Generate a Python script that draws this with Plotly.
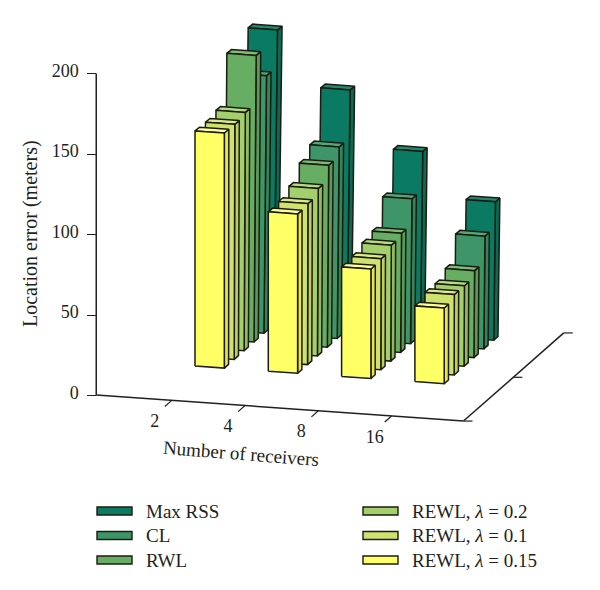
import plotly.graph_objects as go

receivers = ["2", "4", "8", "16"]
y_ticks = [0, 50, 100, 150, 200]

# back row first, so the front bars paint over the rear ones
series_names = ["Max RSS", "CL", "RWL", "REWL, <i>λ</i> = 0.2", "REWL, <i>λ</i> = 0.1", "REWL, <i>λ</i> = 0.15"]
max_rss = [183, 149, 114, 86]
cl = [160, 119, 90, 70]
rwl = [178, 113, 74, 54]
rewl_02 = [148, 104, 72, 50]
rewl_01 = [146, 100, 69, 50]
rewl_015 = [146, 99, 68, 47]
series_values = [max_rss, cl, rwl, rewl_02, rewl_01, rewl_015]

front_colors = ["#0b7a62", "#3e9668", "#68ad64", "#a3cf6d", "#cfe26f", "#ffff66"]
side_colors = ["#0a6a55", "#35845b", "#5b9a58", "#90bb5f", "#bccf60", "#e8e552"]
top_colors = ["#1f8a70", "#55a67a", "#7dbb78", "#b4da84", "#dceb8a", "#ffff99"]

INK = "#231f20"
FONT = "Liberation Serif"

# oblique view of the floor, in page pixels per column / per row
Y0 = 395.5
PX_PER_M = 1.61
BAR_W = 0.4
BAR_D = 0.43
LEAN = 0.004  # rear bars lean out a little as they rise


def project(col, row, value=0.0):
    x = 195 + 73.3 * col + 9.9 * row + LEAN * row * value
    y = 366 + 5.2 * col - 8.7 * row
    return x, (Y0 - y) / PX_PER_M + value


def polygons(quads):
    xs, ys = [], []
    for quad in quads:
        pts = [project(*p) for p in quad] + [project(*quad[0])]
        xs += [p[0] for p in pts] + [None]
        ys += [p[1] for p in pts] + [None]
    return xs, ys


fig = go.Figure()


def add_faces(quads, color):
    xs, ys = polygons(quads)
    fig.add_trace(go.Scatter(x=xs, y=ys, mode="lines", fill="toself", fillcolor=color,
                             line=dict(color="#1c1c10", width=1.5), hoverinfo="skip", showlegend=False))


def add_line(points, width=1.5):
    pts = [project(*p) for p in points]
    fig.add_trace(go.Scatter(x=[p[0] for p in pts], y=[p[1] for p in pts], mode="lines",
                             line=dict(color=INK, width=width), hoverinfo="skip", showlegend=False))


# floor axes
C_L, C_R, R_F, R_B = -0.83, 4.18, -3.83, 6.3
add_line([(C_L, R_F), (C_R, R_F)])
add_line([(C_R, R_F), (C_R, R_B)])
for c in range(len(receivers)):
    add_line([(c + 0.2, R_F), (c + 0.2, R_F - 0.7)], 1.2)
for r in [R_F, 1.2, R_B]:
    add_line([(C_R, r), (C_R + 0.114, r + 0.068)], 1.2)

# y axis line, the ticks come from the axis itself
corner = project(C_L, R_F)
fig.add_trace(go.Scatter(x=[corner[0], corner[0]], y=[0, 200], mode="lines",
                         line=dict(color=INK, width=1.5), hoverinfo="skip", showlegend=False))

# bars
for i, values in enumerate(series_values):
    row = len(series_values) - 1 - i
    front, side, top = [], [], []
    for c, v in enumerate(values):
        r0, r1 = row, row + BAR_D
        c0, c1 = c, c + BAR_W
        front.append([(c0, r0, 0), (c1, r0, 0), (c1, r0, v), (c0, r0, v)])
        side.append([(c1, r0, 0), (c1, r1, 0), (c1, r1, v), (c1, r0, v)])
        top.append([(c0, r0, v), (c1, r0, v), (c1, r1, v), (c0, r1, v)])
    add_faces(side, side_colors[i])
    add_faces(top, top_colors[i])
    add_faces(front, front_colors[i])

# x tick labels sit under the floor line
lab = [project(c + 0.303, R_F - 2.48) for c in range(len(receivers))]
fig.add_trace(go.Scatter(x=[p[0] for p in lab], y=[p[1] for p in lab], mode="text", text=receivers,
                         textfont=dict(family=FONT, size=18, color=INK), hoverinfo="skip", showlegend=False))

fig.update_layout(
    width=600, height=590, margin=dict(l=0, r=0, t=0, b=0),
    paper_bgcolor="white", plot_bgcolor="white", showlegend=False,
    font=dict(family=FONT, size=15, color=INK),
    xaxis=dict(range=[0, 600], visible=False, fixedrange=True),
    yaxis=dict(range=[(Y0 - 590) / PX_PER_M, Y0 / PX_PER_M], anchor="free", position=corner[0] / 600,
               tickvals=y_ticks, ticks="outside", ticklen=9, tickwidth=1.4, tickcolor=INK,
               ticklabelstandoff=5, ticklabelshift=-3,
               showgrid=False, zeroline=False, showline=False, fixedrange=True,
               tickfont=dict(family=FONT, size=18, color=INK)),
)

fig.add_annotation(text="Location error (meters)", x=31, y=1 - 234 / 590, xref="x", yref="paper", textangle=-90,
                   xanchor="center", yanchor="middle", showarrow=False, font=dict(family=FONT, size=20, color=INK))
fig.add_annotation(text="Number of receivers", x=241, y=1 - 453 / 590, xref="x", yref="paper", textangle=4.5,
                   xanchor="center", yanchor="middle", showarrow=False, font=dict(family=FONT, size=19, color=INK))

# legend, two columns of three
legend_x = [97, 363]
legend_y = [511, 535.5, 560]
for i, name in enumerate(series_names):
    col_x = legend_x[i // 3]
    py = legend_y[i % 3]
    fig.add_shape(type="rect", xref="x", yref="paper", x0=col_x, x1=col_x + 35,
                  y0=1 - (py - 4) / 590, y1=1 - (py + 4) / 590, fillcolor=front_colors[i],
                  line=dict(color="#1c1c10", width=1.4))
    fig.add_annotation(text=name, x=col_x + 46.5, y=1 - py / 590, xref="x", yref="paper", xanchor="left",
                       yanchor="middle", showarrow=False, font=dict(family=FONT, size=19, color=INK))

fig.write_html("out.html", config=dict(displayModeBar=False), post_script="document.body.style.margin = '0';")
